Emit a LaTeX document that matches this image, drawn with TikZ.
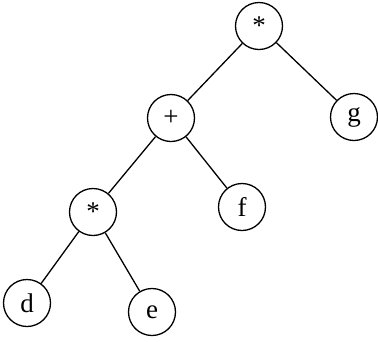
\documentclass[tikz,border=0pt]{standalone}
\usepackage{tikz}
\usepackage{fontspec}
\setmainfont{Liberation Serif}

\begin{document}
\begin{tikzpicture}[x=1pt, y=-1pt,
	vertex/.style={circle,draw,line width=1.3pt,minimum size=47pt,inner sep=0pt,font=\fontsize{27}{30}\selectfont}]
	\useasboundingbox (0,0) rectangle (378,341);
	% nodes of the tree
	\node[vertex] (top)   at (259,26)  {*};
	\node[vertex] (plus)  at (171,118) {+};
	\node[vertex] (g)     at (354,117) {g};
	\node[vertex] (times) at (93,212)  {*};
	\node[vertex] (f)     at (242,207) {f};
	\node[vertex] (d)     at (27,303)  {d};
	\node[vertex] (e)     at (152,312) {e};
	% edges
	\foreach \a/\b in {top/plus,top/g,plus/times,plus/f,times/d,times/e}
	\draw[line width=1.3pt] (\a) -- (\b);
\end{tikzpicture}
\end{document}
